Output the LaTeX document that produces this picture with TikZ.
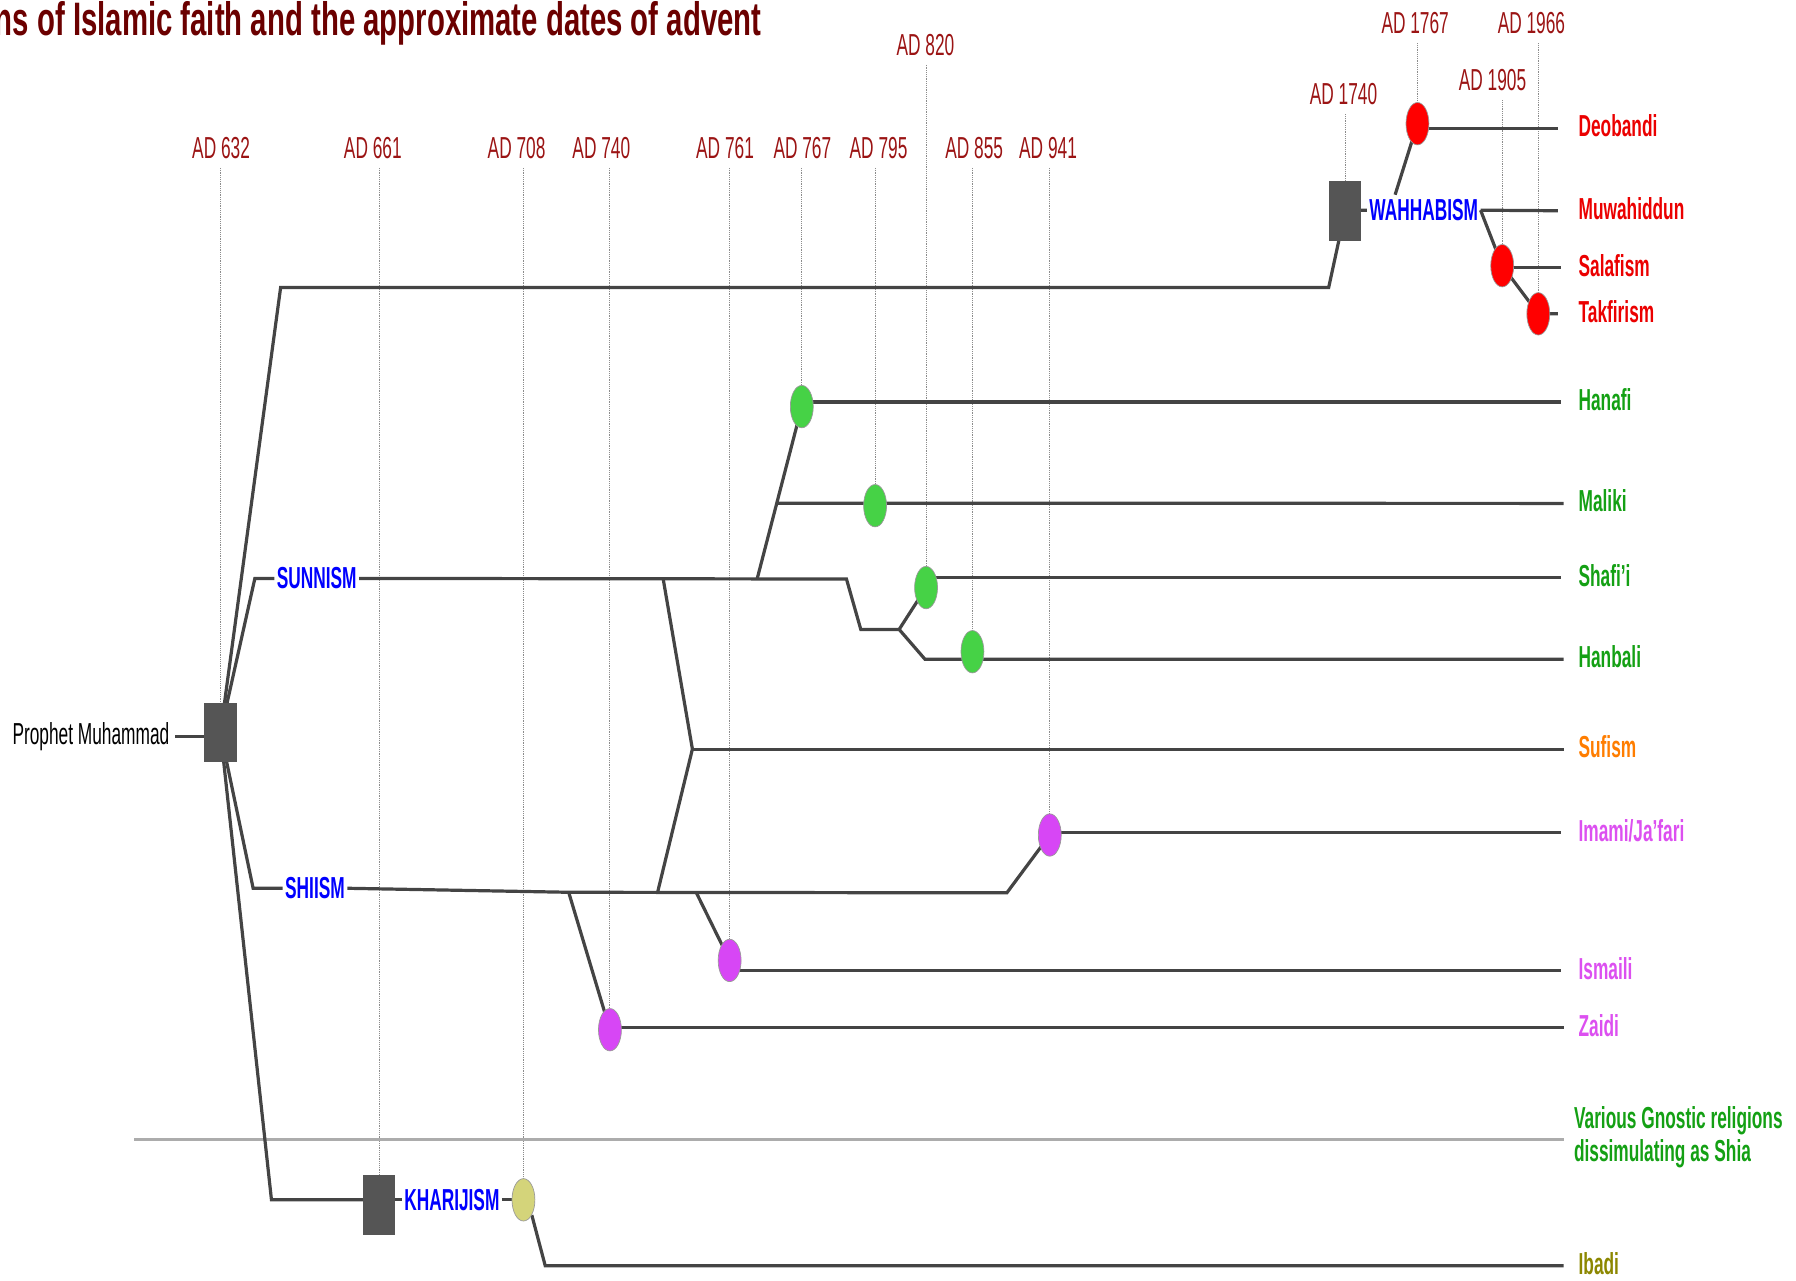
\documentclass[tikz,border=0pt]{standalone}
\usepackage{fontspec}
\setmainfont{Liberation Sans}[FakeStretch=0.57]
\newfontfamily\titlefont{Liberation Sans}[FakeStretch=0.625]
\usetikzlibrary{positioning,shapes.geometric,backgrounds,calc}

\definecolor{titlered}{RGB}{107,0,0}
\definecolor{datered}{RGB}{155,20,20}
\definecolor{branch}{RGB}{68,68,68}
\definecolor{boxgray}{RGB}{85,85,85}
\definecolor{sectblue}{RGB}{0,0,255}
\definecolor{wahred}{RGB}{235,0,0}
\definecolor{sunngreen}{RGB}{20,160,20}
\definecolor{sufiorange}{RGB}{255,125,0}
\definecolor{shiamag}{RGB}{220,80,240}
\definecolor{ibadiolive}{RGB}{140,135,0}
\definecolor{dotgray}{RGB}{140,140,140}
\definecolor{fillred}{RGB}{255,0,0}
\definecolor{fillgreen}{RGB}{70,210,70}
\definecolor{fillmag}{RGB}{215,70,245}
\definecolor{fillkhaki}{RGB}{212,212,122}

\begin{document}
\begin{tikzpicture}[x=1pt,y=-1pt,
		txt/.style={inner sep=0pt,font=\fontsize{26.5}{29}\selectfont},
		datelbl/.style={txt,text=datered},
		sect/.style={inner sep=2pt,font=\fontsize{26.5}{29}\selectfont\bfseries,text=sectblue},
		school/.style={inner sep=0pt,font=\fontsize{26.5}{29}\selectfont\bfseries,anchor=west,yshift=2pt},
		founder/.style={rectangle,fill=boxgray,minimum width=28,minimum height=52,inner sep=0pt},
		advent/.style={ellipse,draw=gray!80,line width=0.6pt,minimum width=20,minimum height=37,inner sep=0pt},
		branchline/.style={draw=branch,line width=2.8pt},
		dateline/.style={draw=dotgray,line width=0.9pt,dash pattern=on 0.8pt off 0.8pt,shorten <=8pt},
		divider/.style={draw=gray!65,line width=2.8pt}]
		\useasboundingbox (0,0) rectangle (1568,1118);

		% title, cut off at the left edge
		\node[inner sep=0pt,font=\titlefont\fontsize{41}{43}\selectfont\bfseries,text=titlered,anchor=base east] (title) at (665,31) {ns of Islamic faith and the approximate dates of advent};

		% dates of advent
		\node[datelbl] (d632) at (193,129) {AD 632};
		\node[datelbl] (d661) at (325.5,129) {AD 661};
		\node[datelbl] (d708) at (451,129) {AD 708};
		\node[datelbl] (d740) at (525,129) {AD 740};
		\node[datelbl] (d761) at (633,129) {AD 761};
		\node[datelbl] (d767) at (700.5,129) {AD 767};
		\node[datelbl] (d795) at (767,129) {AD 795};
		\node[datelbl] (d820) at (808,39) {AD 820};
		\node[datelbl] (d855) at (850.5,129) {AD 855};
		\node[datelbl] (d941) at (915,129) {AD 941};
		\node[datelbl] (d1740) at (1173,82) {AD 1740};
		\node[datelbl] (d1767) at (1235.5,20) {AD 1767};
		\node[datelbl] (d1905) at (1303,70) {AD 1905};
		\node[datelbl] (d1966) at (1337,20) {AD 1966};

		% founding points
		\node[founder] (prophet) at (192.5,639.5) {};
		\node[txt,anchor=east] (pmlbl) at (148,643) {Prophet Muhammad};
		\node[founder] (wahbox) at (1174.5,184) {};
		\node[founder] (kharbox) at (331,1052) {};

		% main branches
		\node[sect] (sunni) at (276.5,505) {SUNNISM};
		\node[sect] (shii) at (275,775.5) {SHIISM};
		\node[sect] (kharij) at (394.5,1047.5) {KHARIJISM};
		\node[sect] (wahhab) at (1243,183.5) {WAHHABISM};

		% schools
		\node[advent,fill=fillred] (deo) at (1237.5,108) {};
		\node[advent,fill=fillred] (salaf) at (1311.5,232) {};
		\node[advent,fill=fillred] (takfir) at (1343,274) {};
		\node[advent,fill=fillgreen] (hanafi) at (700,355) {};
		\node[advent,fill=fillgreen] (maliki) at (764,441.5) {};
		\node[advent,fill=fillgreen] (shafii) at (808.5,513) {};
		\node[advent,fill=fillgreen] (hanbali) at (849,569) {};
		\node[advent,fill=fillmag] (imami) at (916.5,729) {};
		\node[advent,fill=fillmag] (ismaili) at (637,838.5) {};
		\node[advent,fill=fillmag] (zaidi) at (532.5,899) {};
		\node[advent,fill=fillkhaki] (ibadhi) at (457,1047.5) {};

		% ends of the branches and their names
		\coordinate (e-deo) at (1360,112);
		\coordinate (e-muw) at (1360,184);
		\coordinate (e-salaf) at (1363,233.5);
		\coordinate (e-takfir) at (1360,274);
		\coordinate (e-hanafi) at (1363,351);
		\coordinate (e-maliki) at (1365,439.5);
		\coordinate (e-shafii) at (1363,504.5);
		\coordinate (e-hanbali) at (1365,575.5);
		\coordinate (e-sufi) at (1365,654);
		\coordinate (e-imami) at (1363,727);
		\coordinate (e-ismaili) at (1363,847.5);
		\coordinate (e-zaidi) at (1365,897);
		\coordinate (e-gnostic) at (1365,994.5);
		\coordinate (e-ibadi) at (1365,1105);
		\node[school,text=wahred,right=18pt of e-deo] (l-deo) {Deobandi};
		\node[school,text=wahred,right=18pt of e-muw] (l-muw) {Muwahiddun};
		\node[school,text=wahred,right=15pt of e-salaf] (l-salaf) {Salafism};
		\node[school,text=wahred,right=18pt of e-takfir] (l-takfir) {Takfirism};
		\node[school,text=sunngreen,right=15pt of e-hanafi] (l-hanafi) {Hanafi};
		\node[school,text=sunngreen,right=13pt of e-maliki] (l-maliki) {Maliki};
		\node[school,text=sunngreen,right=15pt of e-shafii] (l-shafii) {Shafi’i};
		\node[school,text=sunngreen,right=13pt of e-hanbali] (l-hanbali) {Hanbali};
		\node[school,text=sufiorange,right=13pt of e-sufi] (l-sufi) {Sufism};
		\node[school,text=shiamag,right=15pt of e-imami] (l-imami) {Imami/Ja’fari};
		\node[school,text=shiamag,right=15pt of e-ismaili] (l-ismaili) {Ismaili};
		\node[school,text=shiamag,right=13pt of e-zaidi] (l-zaidi) {Zaidi};
		\node[school,text=sunngreen,align=left,right=9pt of e-gnostic] (l-gnostic) {Various Gnostic religions\\dissimulating as Shia};
		\node[school,text=ibadiolive,right=13pt of e-ibadi] (l-ibadi) {Ibadi};

		\begin{scope}[on background layer]
			% dotted date lines
			\draw[dateline] (prophet.north |- d632.south) -- (prophet.north);
			\draw[dateline] (kharbox.north |- d661.south) -- (kharbox.north);
			\draw[dateline] (ibadhi.north |- d708.south) -- (ibadhi.north);
			\draw[dateline] (zaidi.north |- d740.south) -- (zaidi.north);
			\draw[dateline] (ismaili.north |- d761.south) -- (ismaili.north);
			\draw[dateline] (hanafi.north |- d767.south) -- (hanafi.north);
			\draw[dateline] (maliki.north |- d795.south) -- (maliki.north);
			\draw[dateline] (shafii.north |- d820.south) -- (shafii.north);
			\draw[dateline] (hanbali.north |- d855.south) -- (hanbali.north);
			\draw[dateline] (imami.north |- d941.south) -- (imami.north);
			\draw[dateline] (wahbox.north |- d1740.south) -- (wahbox.north);
			\draw[dateline] (deo.north |- d1767.south) -- (deo.north);
			\draw[dateline] (salaf.north |- d1905.south) -- (salaf.north);
			\draw[dateline] (takfir.north |- d1966.south) -- (takfir.north);

			% gnostic divider
			\coordinate (g0) at (117,994.5);
			\draw[divider] (g0) -- (e-gnostic);

			% prophet
			\draw[branchline,shorten <=5pt] (pmlbl.east) -- (pmlbl.east -| prophet.center);

			% wahhabism
			\coordinate (w1) at (245,251);
			\coordinate (w2) at (1160,251);
			\coordinate (wd) at (1218,170);
			\draw[branchline] (prophet.center) -- (w1) -- (w2) -- (wahbox.center);
			\draw[branchline] (wahbox.center) -- (wahhab.west);
			\draw[branchline] (wd) -- (deo.center);
			\draw[branchline] (deo.center |- e-deo) -- (e-deo);
			\draw[branchline] (wahhab.east) -- (e-muw);
			\draw[branchline] (wahhab.east) -- (salaf.center) -- (takfir.center) -- (e-takfir);
			\draw[branchline] (salaf.center |- e-salaf) -- (e-salaf);

			% sunnism
			\coordinate (s0) at (222.5,505);
			\coordinate (s1) at (579,505.5);
			\coordinate (s2) at (661,505.5);
			\coordinate (s3) at (739,505.5);
			\coordinate (s4) at (751.5,549.5);
			\coordinate (s5) at (785,549.5);
			\coordinate (s6) at (807.5,575.5);
			\coordinate (s7) at ($(s2)!0.44!(hanafi)$);
			\draw[branchline] (prophet.center) -- (s0) -- (sunni.west);
			\draw[branchline] (sunni.east) -- (s3) -- (s4) -- (s5) -- (shafii.center);
			\draw[branchline] (s5) -- (s6) -- (e-hanbali);
			\draw[branchline] (shafii.center |- e-shafii) -- (e-shafii);
			\draw[branchline] (s2) -- (hanafi.center);
			\draw[branchline] (hanafi.center |- e-hanafi) -- (e-hanafi);
			\draw[branchline] (s7) -- (e-maliki);

			% sufism
			\coordinate (f1) at (604.5,654);
			\coordinate (h2) at (574,779.5);
			\draw[branchline] (s1) -- (f1) -- (h2);
			\draw[branchline] (f1) -- (e-sufi);

			% shiism
			\coordinate (h0) at (221,775.5);
			\coordinate (h1) at (496.5,779);
			\coordinate (h3) at (608,779.5);
			\coordinate (h4) at (879,779.5);
			\draw[branchline] (prophet.center) -- (h0) -- (shii.west);
			\draw[branchline] (shii.east) -- (h1) -- (h4) -- (imami.center);
			\draw[branchline] (imami.center |- e-imami) -- (e-imami);
			\draw[branchline] (h1) -- (zaidi.center);
			\draw[branchline] (zaidi.center |- e-zaidi) -- (e-zaidi);
			\draw[branchline] (h3) -- (ismaili.center);
			\draw[branchline] (ismaili.center |- e-ismaili) -- (e-ismaili);

			% kharijism
			\coordinate (k0) at (237,1047.5);
			\coordinate (k1) at (476,1105);
			\draw[branchline] (prophet.center) -- (k0) -- (k0 -| kharbox.center);
			\draw[branchline] (kharbox.center |- kharij.west) -- (kharij.west);
			\draw[branchline] (kharij.east) -- (ibadhi.center);
			\draw[branchline] (ibadhi.south east) -- (k1) -- (e-ibadi);
		\end{scope}
	\end{tikzpicture}
\end{document}
